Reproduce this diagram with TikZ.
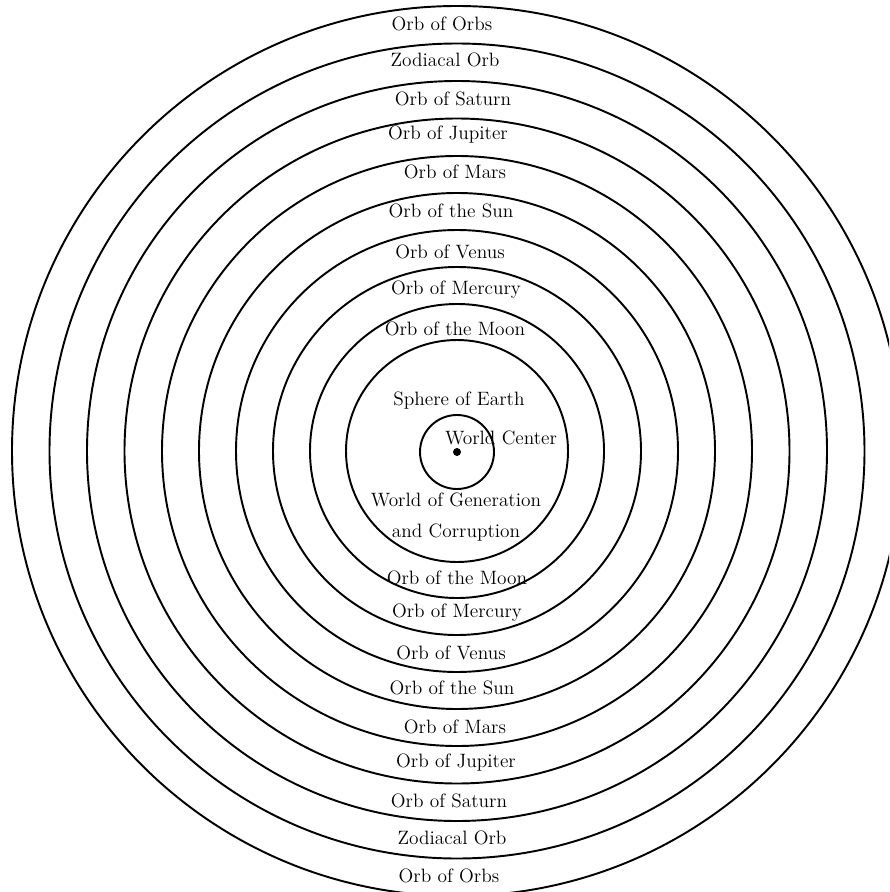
\documentclass[tikz,border=0pt]{standalone}
\usepackage{tikz}
\usetikzlibrary{positioning}
\tikzstyle{orb} = [line width=1.1pt, draw=black]
\tikzstyle{orbtext} = [inner sep=0pt, font=\fontsize{11}{13}\selectfont]
\tikzstyle{hub} = [circle, fill=black, inner sep=0pt, minimum size=0.16cm]
\begin{document}
\begin{tikzpicture}[x=0.02cm, y=-0.02cm]
    \useasboundingbox (0,0) rectangle (889,892);
    \clip (0,0) rectangle (889,892);
    \node (c) [hub] at (457,452) {};
    \draw [orb] (c) circle [radius=37];
    \foreach \r in {111,147,184,221,258,295,332.5,370,407.5,445}
      \draw [orb] (457,451) circle [radius=\r];
    % names on the upper half
    \node (1) [orbtext] at (442,24) {Orb of Orbs};
    \node (2) [orbtext] at (445,60) {Zodiacal Orb};
    \node (3) [orbtext] at (453,99) {Orb of Saturn};
    \node (4) [orbtext] at (448,135) {Orb of Jupiter};
    \node (5) [orbtext] at (455,172) {Orb of Mars};
    \node (6) [orbtext] at (451,211) {Orb of the Sun};
    \node (7) [orbtext] at (450,252) {Orb of Venus};
    \node (8) [orbtext] at (456,290) {Orb of Mercury};
    \node (9) [orbtext] at (455,329) {Orb of the Moon};
    % the earth
    \node (earth) [orbtext] at (459,401) {Sphere of Earth};
    \node (wc) [orbtext] at (501,438) {World Center};
    \node (gen) [orbtext, align=center, text width=5cm] at (456,517)
      {World of Generation\\[4.5pt]and Corruption};
    % names on the lower half
    \node (9b) [orbtext] at (457,578) {Orb of the Moon};
    \node (8b) [orbtext] at (457,613) {Orb of Mercury};
    \node (7b) [orbtext] at (451,653) {Orb of Venus};
    \node (6b) [orbtext] at (452,688) {Orb of the Sun};
    \node (5b) [orbtext] at (455,727) {Orb of Mars};
    \node (4b) [orbtext] at (456,763) {Orb of Jupiter};
    \node (3b) [orbtext] at (449,801) {Orb of Saturn};
    \node (2b) [orbtext] at (452,838) {Zodiacal Orb};
    \node (1b) [orbtext] at (449,876) {Orb of Orbs};
\end{tikzpicture}
\end{document}
